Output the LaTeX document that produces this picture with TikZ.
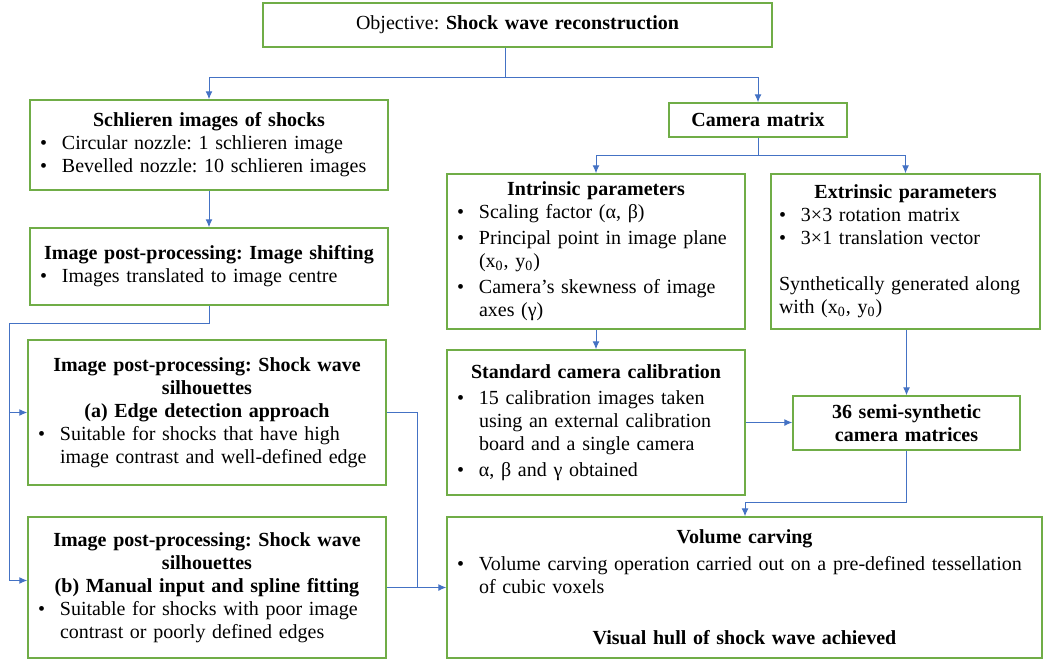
\documentclass[tikz,border=0pt]{standalone}
\usepackage{fontspec}
\setmainfont{Liberation Serif}
\usepackage{xcolor}
\usetikzlibrary{arrows.meta}
\frenchspacing

\definecolor{boxgreen}{RGB}{112,173,71}
\definecolor{linkblue}{RGB}{68,114,196}

\newcommand{\hd}[1]{{\centering\bfseries #1\par}}
\newcommand{\bul}[1]{\hangindent=11pt\hangafter=1\noindent\makebox[11pt][l]{\textbullet}#1\par}

\tikzset{
  box/.style={draw=boxgreen, line width=0.75pt, fill=white, inner xsep=5pt, inner ysep=3pt,
    align=left, font=\fontsize{10}{11.5}\selectfont},
  link/.style={draw=linkblue, line width=0.5pt},
  arr/.style={link, -{Latex[length=4pt,width=3.5pt]}}
}

\begin{document}
\begin{tikzpicture}[x=0.5pt, y=-0.5pt]
  \useasboundingbox (0,0) rectangle (1043,664);

  \node[box, text width=244.5pt, minimum height=22pt, align=center] (obj) at (517.5,25)
    {Objective: \textbf{Shock wave reconstruction}};

  % left column
  \node[box, text width=169pt, minimum height=45pt] (schl) at (209,145)
    {\hd{Schlieren images of shocks}\bul{Circular nozzle: 1 schlieren image}\bul{Bevelled nozzle: 10 schlieren images}};
  \node[box, text width=169pt, minimum height=38.5pt] (shift) at (209,266.5)
    {\hd{Image post-processing: Image shifting}\bul{Images translated to image centre}};
  \node[box, text width=169pt, minimum height=72.5pt] (edge) at (207,412.5)
    {\hd{Image post-processing: Shock wave\\silhouettes\\(a) Edge detection approach}%
     \bul{Suitable for shocks that have high\newline image contrast and well-defined edge}\vskip4pt};
  \node[box, text width=169pt, minimum height=70.5pt] (man) at (207,587.5)
    {\hd{Image post-processing: Shock wave\\silhouettes\\(b) Manual input and spline fitting}%
     \bul{Suitable for shocks with poor image\newline contrast or poorly defined edges}};

  % right part
  \node[box, text width=79pt, minimum height=17pt, align=center] (cam) at (758,120)
    {\textbf{Camera matrix}};
  \node[box, text width=139pt, minimum height=77.5pt] (intr) at (596,251.5)
    {\hd{Intrinsic parameters}\bul{Scaling factor (α, β)}\vskip1.5pt%
     \bul{Principal point in image plane\newline (x\textsubscript{0}, y\textsubscript{0})}\vskip1.5pt%
     \bul{Camera’s skewness of image\newline axes (γ)}};
  \node[box, text width=126.5pt, inner xsep=4pt, minimum height=77.5pt] (extr) at (905.5,251.5)
    {\hd{Extrinsic parameters}\bul{3×3 rotation matrix}\bul{3×1 translation vector}%
     \vskip\baselineskip\noindent Synthetically generated along\newline with (x\textsubscript{0}, y\textsubscript{0})\par};
  \node[box, text width=139pt, minimum height=72.5pt] (std) at (596,422.5)
    {\hd{Standard camera calibration}\vskip1.5pt%
     \bul{15 calibration images taken\newline using an external calibration\newline board and a single camera}\vskip1.5pt%
     \bul{α, β and γ obtained}\vskip5pt};
  \node[box, text width=103.5pt, minimum height=27pt, align=center] (syn) at (906.5,423)
    {\textbf{36 semi-synthetic\\camera matrices}};
  \node[box, text width=287.5pt, minimum height=70.5pt] (vol) at (744.5,587.5)
    {\hd{Volume carving}\vskip2pt%
     \bul{Volume carving operation carried out on a pre-defined tessellation\newline of cubic voxels}%
     \vskip14pt\hd{Visual hull of shock wave achieved}};

  % connectors
  \coordinate (j1) at (505,77);
  \draw[link] (j1 |- obj.south) -- (j1);
  \draw[arr] (j1) -| (schl.north);
  \draw[arr] (j1) -| (cam.north);

  \coordinate (j2) at (758,155);
  \draw[link] (cam.south) -- (j2);
  \draw[arr] (j2) -| (intr.north);
  \draw[arr] (j2) -| (extr.north);

  \draw[arr] (schl) -- (shift);
  \coordinate (j3) at (9,323);
  \draw[link] (shift.south) |- (j3);
  \draw[arr] (j3) |- (edge.west);
  \draw[arr] (j3) |- ([yshift=3.5pt]man.west);

  \coordinate (j4) at (417,587.5);
  \draw[link] (edge.east) -| (j4);
  \draw[arr] (man.east) -- (vol.west);

  \draw[arr] (intr) -- (std);
  \draw[arr] (std.east) -- (syn.west |- std.east);
  \draw[arr] (syn.north |- extr.south) -- (syn.north);
  \coordinate (j5) at (745,502);
  \draw[link] (syn.south) |- (j5);
  \draw[arr] (j5) -- (j5 |- vol.north);
\end{tikzpicture}
\end{document}
